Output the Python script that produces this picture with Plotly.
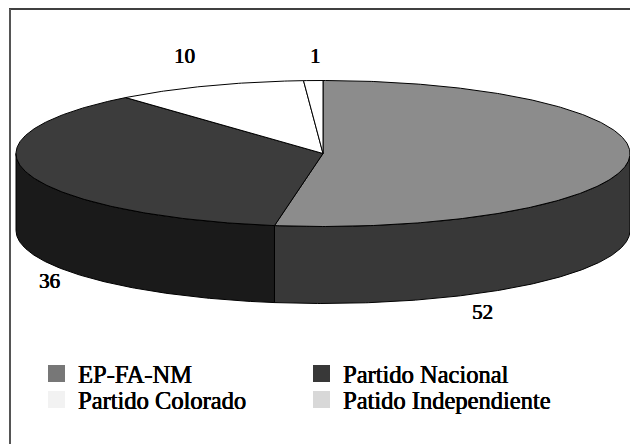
import numpy as np
import plotly.graph_objects as go

parties = ["EP-FA-NM", "Partido Nacional", "Partido Colorado", "Patido Independiente"]
seats = [52, 36, 10, 1]
top_colors = ["#8c8c8c", "#3c3c3c", "#ffffff", "#ffffff"]
side_colors = ["#383838", "#1a1a1a", "#ffffff", "#ffffff"]
legend_colors = ["#777777", "#383838", "#f2f2f2", "#d8d8d8"]

CX, CY, RX, RY, DEPTH = 323, 153.5, 307, 73, 77
FONT = "Liberation Serif"
THICK = "0.4px 0 0.5px #000, -0.2px 0 0.5px #000"


def rim(a0, a1, dy=0.0):
    t = np.radians(np.linspace(a0, a1, max(3, int(abs(a1 - a0) * 2))))
    return CX + RX * np.sin(t), CY - RY * np.cos(t) + dy


fig = go.Figure()
edges = np.concatenate([[0], np.cumsum(seats)]) / sum(seats) * 360
line = dict(color="#000000", width=1)

# side walls (front half of the rim only)
for i, (a0, a1) in enumerate(zip(edges[:-1], edges[1:])):
    lo, hi = max(a0, 90), min(a1, 270)
    if hi <= lo:
        continue
    x1, y1 = rim(lo, hi)
    x2, y2 = rim(hi, lo, DEPTH)
    fig.add_trace(go.Scatter(x=np.r_[x1, x2, x1[0]], y=np.r_[y1, y2, y1[0]], mode="lines",
                             fill="toself", fillcolor=side_colors[i], line=line, hoverinfo="skip"))

# top face slices
for i, (a0, a1) in enumerate(zip(edges[:-1], edges[1:])):
    x, y = rim(a0, a1)
    fig.add_trace(go.Scatter(x=np.r_[CX, x, CX], y=np.r_[CY, y, CY], mode="lines", name=parties[i],
                             fill="toself", fillcolor=top_colors[i], line=line, hoverinfo="skip"))

# value labels
label_xy = [(482, 312), (49, 281), (184, 56), (315, 56)]
for v, (lx, ly) in zip(seats, label_xy):
    fig.add_annotation(x=lx, y=ly, text=str(v), showarrow=False,
                       font=dict(family=FONT, size=21, color="#000", shadow=THICK))

# legend
swatch_xy = [(48, 365), (313, 365), (48, 391), (313, 391)]
for i, (sx, sy) in enumerate(swatch_xy):
    fig.add_shape(type="rect", x0=sx, x1=sx + 17, y0=sy, y1=sy + 17, fillcolor=legend_colors[i], line_width=0, layer="above")
    fig.add_annotation(x=sx + 28, y=sy + 9, text=parties[i], xanchor="left", showarrow=False,
                       font=dict(family=FONT, size=24.5, color="#000", shadow=THICK))

# frame
fig.add_shape(type="line", x0=9, x1=630, y0=9, y1=9, line=dict(color="#000", width=1.5))
fig.add_shape(type="line", x0=10, x1=10, y0=9, y1=444, line=dict(color="#555", width=2))

fig.update_layout(width=630, height=444, margin=dict(l=0, r=0, t=0, b=0), showlegend=False,
                  paper_bgcolor="#fff", plot_bgcolor="#fff",
                  xaxis=dict(range=[0, 630], visible=False, fixedrange=True),
                  yaxis=dict(range=[444, 0], visible=False, fixedrange=True))
fig.write_html("out.html", config=dict(displayModeBar=False),
               post_script="document.body.style.margin='0';document.body.style.overflow='hidden';")
